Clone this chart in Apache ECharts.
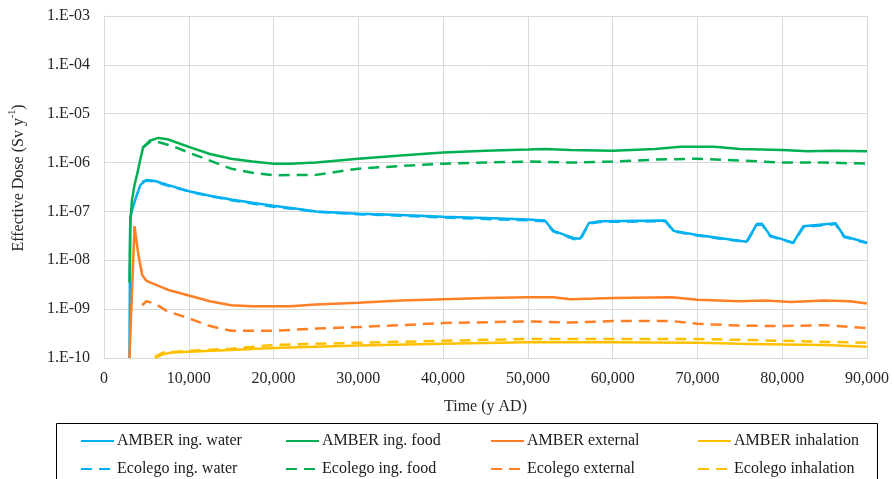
<!DOCTYPE html>
<html>
<head>
<meta charset="utf-8">
<script src="https://cdn.jsdelivr.net/npm/echarts@6/dist/echarts.min.js"></script>
<style>html,body{margin:0;padding:0;background:#fff}#c{width:894px;height:479px}</style>
</head>
<body>
<div id="c"></div>
<script>
// ---- data (time in y AD, dose in Sv/y) ----
const amberWaterT = [3000,3100,3400,3800,4300,5000,6000,7500,10000,12500,15000,17500,20000,22500,25000,30000,35000,40000,45000,50000,52000,53000,55500,56200,57200,58500,66200,67200,70000,75800,77000,77600,78600,81300,82500,86300,87300,90000];
const amberWaterV = [1e-10,7.5e-8,1.2e-7,2e-7,3.5e-7,4.4e-7,4.2e-7,3.5e-7,2.6e-7,2.1e-7,1.75e-7,1.5e-7,1.3e-7,1.15e-7,1.0e-7,9.0e-8,8.5e-8,7.8e-8,7.3e-8,6.8e-8,6.5e-8,4e-8,2.8e-8,2.8e-8,5.8e-8,6.3e-8,6.5e-8,4e-8,3.3e-8,2.4e-8,5.5e-8,5.6e-8,3.2e-8,2.3e-8,5e-8,5.7e-8,3.1e-8,2.3e-8];

const ecoWaterT = [4500,5000,6000,7500,10000,12500,15000,17500,20000,22500,25000,30000,35000,40000,45000,50000,52000,53000,55500,56200,57200,58500,66200,67200,70000,75800,77000,77600,78600,81300,82500,86300,87300,90000];
const ecoWaterV = [4.0e-7,4.3e-7,4.1e-7,3.4e-7,2.55e-7,2.05e-7,1.7e-7,1.45e-7,1.25e-7,1.12e-7,9.8e-8,8.8e-8,8.2e-8,7.5e-8,7.0e-8,6.6e-8,6.3e-8,3.9e-8,2.7e-8,2.7e-8,5.6e-8,6.1e-8,6.3e-8,3.9e-8,3.2e-8,2.35e-8,5.3e-8,5.4e-8,3.1e-8,2.25e-8,4.8e-8,5.5e-8,3.0e-8,2.25e-8];

const amberFoodT = [3000,3100,3300,3600,3900,4300,4600,5400,6400,7500,10000,12500,15000,17500,20000,22000,25000,30000,35000,40000,45000,50000,52000,55000,60000,65000,68000,72000,75000,80000,83000,86000,90000];
const amberFoodV = [3.5e-9,6e-8,1.7e-7,3.5e-7,5.7e-7,1.2e-6,2.0e-6,2.8e-6,3.2e-6,3.0e-6,2.1e-6,1.5e-6,1.2e-6,1.05e-6,9.5e-7,9.5e-7,1.0e-6,1.2e-6,1.4e-6,1.6e-6,1.75e-6,1.85e-6,1.9e-6,1.8e-6,1.75e-6,1.9e-6,2.1e-6,2.1e-6,1.9e-6,1.8e-6,1.7e-6,1.75e-6,1.7e-6];

const ecoFoodT = [4500,5500,6500,8000,10000,12500,15000,17500,20000,25000,27500,30000,35000,40000,45000,50000,55000,60000,65000,70000,75000,80000,85000,90000];
const ecoFoodV = [2.0e-6,2.7e-6,2.6e-6,2.2e-6,1.6e-6,1.1e-6,7.5e-7,6.2e-7,5.5e-7,5.6e-7,6.5e-7,7.5e-7,8.5e-7,9.5e-7,1.0e-6,1.05e-6,1.0e-6,1.05e-6,1.15e-6,1.2e-6,1.1e-6,1.0e-6,1.0e-6,9.5e-7];

const amberExtT = [3000,3600,4000,4500,5000,7500,10000,12500,15000,17500,22000,25000,30000,35000,40000,45000,50000,53000,55000,58000,60000,67000,70000,75000,78000,81000,85000,88000,90000];
const amberExtV = [1e-10,5e-8,1.5e-8,5e-9,3.8e-9,2.5e-9,1.9e-9,1.45e-9,1.2e-9,1.15e-9,1.15e-9,1.25e-9,1.35e-9,1.5e-9,1.6e-9,1.7e-9,1.75e-9,1.75e-9,1.6e-9,1.65e-9,1.7e-9,1.75e-9,1.55e-9,1.45e-9,1.5e-9,1.4e-9,1.5e-9,1.45e-9,1.3e-9];

const ecoExtT = [4500,5000,6000,7500,10000,12500,15000,20000,25000,30000,35000,40000,45000,50000,55000,60000,67000,70000,75000,80000,85000,90000];
const ecoExtV = [1.2e-9,1.45e-9,1.3e-9,9e-10,6.5e-10,4.5e-10,3.6e-10,3.6e-10,4.0e-10,4.3e-10,4.7e-10,5.2e-10,5.4e-10,5.6e-10,5.3e-10,5.7e-10,5.7e-10,5.0e-10,4.6e-10,4.5e-10,4.7e-10,4.1e-10];

const amberInhT = [6000,7000,8000,10000,15000,20000,25000,30000,40000,50000,60000,70000,75000,80000,85000,90000];
const amberInhV = [1e-10,1.2e-10,1.3e-10,1.35e-10,1.45e-10,1.6e-10,1.7e-10,1.8e-10,1.95e-10,2.1e-10,2.1e-10,2.05e-10,1.95e-10,1.9e-10,1.85e-10,1.7e-10];

const ecoInhT = [6000,7000,10000,15000,20000,25000,30000,40000,50000,60000,70000,75000,80000,90000];
const ecoInhV = [1.05e-10,1.3e-10,1.4e-10,1.55e-10,1.85e-10,1.95e-10,2.05e-10,2.25e-10,2.45e-10,2.45e-10,2.45e-10,2.35e-10,2.25e-10,2.05e-10];

const seriesNames = ['AMBER ing. water','AMBER ing. food','AMBER external','AMBER inhalation',
                     'Ecolego ing. water','Ecolego ing. food','Ecolego external','Ecolego inhalation'];
const xTicks = [0,10000,20000,30000,40000,50000,60000,70000,80000,90000];
const yTicks = ['1.E-10','1.E-09','1.E-08','1.E-07','1.E-06','1.E-05','1.E-04','1.E-03'];

// ---- build ----
const FONT = '"Liberation Serif","Times New Roman",serif';
const colors = ['#00B0F0','#00B050','#FF7F27','#FFC000'];
const pairs = (t,v)=>t.map((x,i)=>[x,v[i]]);
const sets = [
  [amberWaterT,amberWaterV],[amberFoodT,amberFoodV],[amberExtT,amberExtV],[amberInhT,amberInhV],
  [ecoWaterT,ecoWaterV],[ecoFoodT,ecoFoodV],[ecoExtT,ecoExtV],[ecoInhT,ecoInhV]
];
const series = sets.map((s,i)=>({
  name: seriesNames[i], type:'line', symbol:'none', smooth:false,
  data: pairs(s[0],s[1]), z: i<4 ? 3 : 4,
  lineStyle:{color:colors[i%4], width:2.5, type: i<4 ? 'solid' : [11,7]},
  itemStyle:{color:colors[i%4]}
}));

const legendCols = [80,285,490,697];
const legends = legendCols.map((x,c)=>({
  show:true, orient:'vertical', left:x, top:432, height:80, width:200, padding:0,
  itemWidth:33, itemHeight:14, itemGap:10,
  data:[seriesNames[c],seriesNames[c+4]],
  textStyle:{fontFamily:FONT,fontSize:16,color:'#1a1a1a',lineHeight:18,padding:[0,0,0,-2]},
  itemStyle:{opacity:0},
  selectedMode:false
}));

const chart = echarts.init(document.getElementById('c'));
chart.setOption({
  animation:false,
  backgroundColor:'#fff',
  grid:{left:104,right:27,top:16,bottom:121,outerBoundsMode:'none',containLabel:false},
  xAxis:{type:'value',min:0,max:90000,interval:10000,
    axisLine:{show:true,lineStyle:{color:'#d9d9d9'}},axisTick:{show:false},
    splitLine:{show:true,lineStyle:{color:'#d9d9d9',width:1}},
    axisLabel:{fontFamily:FONT,fontSize:16,color:'#262626',margin:13,
      formatter:v=>v.toLocaleString('en-US')},
    name:'Time (y AD)',nameLocation:'middle',nameGap:41,
    nameTextStyle:{fontFamily:FONT,fontSize:16,color:'#262626'}},
  yAxis:{type:'log',logBase:10,min:1e-10,max:1e-3,
    axisLine:{show:true,lineStyle:{color:'#d9d9d9'}},axisTick:{show:false},
    splitLine:{show:true,lineStyle:{color:'#d9d9d9',width:1}},
    axisLabel:{fontFamily:FONT,fontSize:16,color:'#262626',margin:14,
      formatter:v=>{const e=Math.round(Math.log10(v));const k=e+10;return yTicks[k]!==undefined?yTicks[k]:'';}},
    name:'{g|}{a|Effective Dose (Sv y}{s|-1}{a|)}',nameLocation:'middle',nameGap:77,
    nameTextStyle:{rich:{
      g:{width:18,lineHeight:20},
      a:{fontFamily:FONT,fontSize:16,color:'#262626',lineHeight:20,verticalAlign:'bottom'},
      s:{fontFamily:FONT,fontSize:10,color:'#262626',lineHeight:20,verticalAlign:'top',padding:[0,0,8,0]}}}},
  legend:legends,
  graphic:[{type:'rect',shape:{x:56.5,y:423.5,width:821,height:70},
    style:{fill:'none',stroke:'#000',lineWidth:1},silent:true}],
  series:series
});
</script>
</body>
</html>
